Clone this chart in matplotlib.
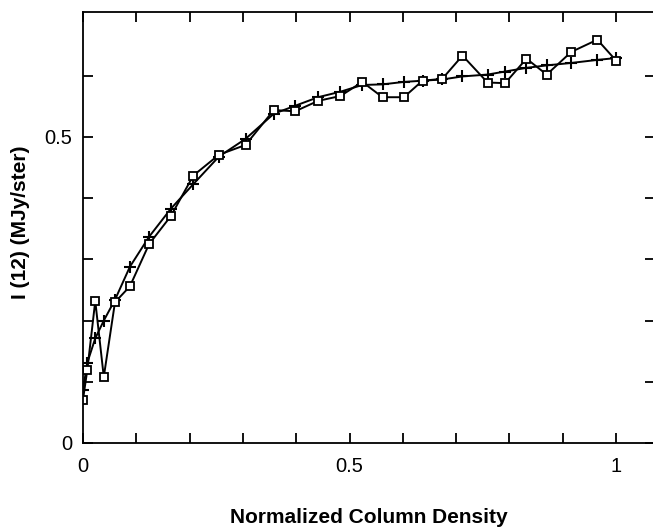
import matplotlib
matplotlib.use("Agg")
import matplotlib.pyplot as plt

plt.rcParams['font.family'] = ['Liberation Sans', 'DejaVu Sans']

# normalized column density (shared x for both curves)
col_density = [0.0, 0.008, 0.023, 0.039, 0.060, 0.088, 0.124, 0.165, 0.207,
               0.255, 0.305, 0.358, 0.398, 0.441, 0.483, 0.524, 0.562, 0.602,
               0.637, 0.674, 0.712, 0.759, 0.792, 0.832, 0.870, 0.916, 0.965,
               1.0]
# observed I(12) (squares)
i12_obs = [0.071, 0.119, 0.232, 0.108, 0.230, 0.256, 0.325, 0.371, 0.437,
           0.471, 0.487, 0.544, 0.542, 0.559, 0.567, 0.590, 0.565, 0.565,
           0.592, 0.595, 0.633, 0.589, 0.588, 0.628, 0.602, 0.639, 0.659,
           0.625]
# model I(12) (pluses)
i12_model = [0.087, 0.131, 0.171, 0.200, 0.234, 0.288, 0.337, 0.383, 0.423,
             0.468, 0.497, 0.538, 0.551, 0.565, 0.574, 0.585, 0.586, 0.590,
             0.592, 0.594, 0.599, 0.602, 0.607, 0.613, 0.617, 0.621, 0.626,
             0.629]

fig = plt.figure(figsize=(6.53, 5.27), dpi=100)
ax = fig.add_axes([83/653, 84/527, 572/653, 431/527])

ax.plot(col_density, i12_model, color='black', lw=1.4, marker='+',
        markersize=9, markeredgewidth=1.5)
ax.plot(col_density, i12_obs, color='black', lw=1.4, marker='s',
        markersize=6, markerfacecolor='white', markeredgewidth=1.3)

ax.set_xlim(0, 572/533)
ax.set_ylim(0, 431/612)

ax.spines['right'].set_visible(False)
for s in ['left', 'bottom', 'top']:
    ax.spines[s].set_linewidth(1.3)

xt = [i/10 for i in range(11)]
yt = [i/10 for i in range(7)]
ax.set_xticks(xt)
ax.set_xticklabels(['0', '', '', '', '', '0.5', '', '', '', '', '1'])
ax.set_yticks(yt)
ax.set_yticklabels(['0', '', '', '', '', '0.5', ''])
ax.tick_params(direction='in', length=7, width=1.3, labelsize=14.5,
               top=True, right=True)
ax.tick_params(axis='x', pad=10)
ax.tick_params(axis='y', pad=8)

ax.set_xlabel('Normalized Column Density', fontsize=15, fontweight='bold')
ax.xaxis.set_label_coords(0.5, -0.150)
ax.set_ylabel('I (12) (MJy/ster)', fontsize=15, fontweight='bold')
ax.yaxis.set_label_coords(-0.093, 0.513)

fig.savefig('out.png', dpi=100)
